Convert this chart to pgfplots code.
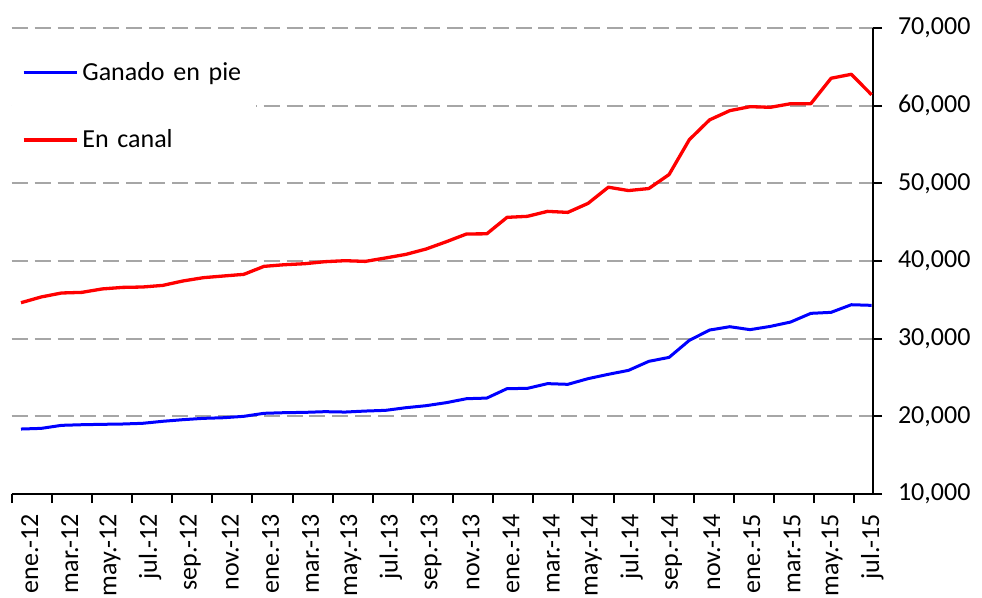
\documentclass[border=0pt]{standalone}
\usepackage{fontspec}
\setmainfont{Carlito}
\usepackage{pgfplots}
\pgfplotsset{compat=1.18}
\definecolor{gridgray}{RGB}{166,166,166}
\newcommand{\chartfont}{\fontsize{13bp}{15bp}\selectfont}
\begin{document}
\begin{tikzpicture}
\begin{axis}[
  scale only axis, width=430.65bp, height=233bp,
  xmin=-0.459, xmax=42.07, ymin=10000, ymax=70000,
  axis x line=bottom, axis y line=right,
  axis line style={black, line width=1.2bp, -},
  xtick pos=bottom, ytick pos=right, yticklabel pos=right,
  tick align=outside, major tick length=4.5bp,
  tick style={black, line width=1bp},
  xtick={-0.459,1.5222,...,41.2},
  xticklabels={ene.-12,mar.-12,may.-12,jul.-12,sep.-12,nov.-12,ene.-13,mar.-13,may.-13,jul.-13,sep.-13,nov.-13,ene.-14,mar.-14,may.-14,jul.-14,sep.-14,nov.-14,ene.-15,mar.-15,may.-15,jul.-15},
  xticklabel style={font=\chartfont, xshift=9bp, yshift=-2bp, rotate=90, anchor=east},
  ytick={10000,20000,...,70000},
  scaled y ticks=false,
  yticklabel style={font=\chartfont, anchor=west, xshift=4.5bp,
    /pgf/number format/fixed, /pgf/number format/1000 sep={,}},
  /pgf/number format/assume math mode=true,
  ymajorgrids,
  major grid style={gridgray, line width=1.1bp, dash pattern=on 8bp off 3.45bp},
  legend style={at={(0,1)}, anchor=north west, yshift=-10bp,
    draw=none, fill=white, font=\chartfont,
    inner xsep=5bp, inner ysep=5bp, row sep=19bp,
    /tikz/every even column/.append style={text width=80bp, inner xsep=2.5bp}},
  legend cell align=left,
  legend image code/.code={\draw[#1] (0bp,0bp) -- (26.5bp,0bp);},
]
\addplot[blue, line width=1.5bp, line join=round] coordinates {
(0,18365)(1,18450)(2,18840)(3,18920)(4,18970)(5,19010)(6,19100)(7,19360)(8,19570)(9,19740)(10,19820)(11,20000)(12,20390)(13,20470)(14,20510)(15,20600)(16,20550)(17,20680)(18,20770)(19,21110)(20,21370)(21,21760)(22,22270)(23,22350)(24,23565)(25,23600)(26,24210)(27,24120)(28,24850)(29,25410)(30,25920)(31,27080)(32,27590)(33,29780)(34,31110)(35,31540)(36,31160)(37,31580)(38,32140)(39,33260)(40,33390)(41,34370)(42,34290)
};
\addlegendentry{Ganado en pie}
\addplot[red, line width=1.65bp, line join=round] coordinates {
(0,34630)(1,35370)(2,35880)(3,35960)(4,36400)(5,36600)(6,36650)(7,36860)(8,37430)(9,37850)(10,38070)(11,38280)(12,39310)(13,39520)(14,39650)(15,39910)(16,40040)(17,39950)(18,40390)(19,40850)(20,41540)(21,42480)(22,43480)(23,43500)(24,45620)(25,45750)(26,46390)(27,46260)(28,47420)(29,49500)(30,49070)(31,49330)(32,51130)(33,55620)(34,58170)(35,59360)(36,59870)(37,59790)(38,60250)(39,60250)(40,63530)(41,64040)(42,61400)
};
\addlegendentry{En canal}
\end{axis}
\pgfresetboundingbox
\path ([shift={(-5.85bp,-52bp)}]current axis.south west) rectangle ([shift={(54.5bp,14bp)}]current axis.north east);
\end{tikzpicture}
\end{document}
